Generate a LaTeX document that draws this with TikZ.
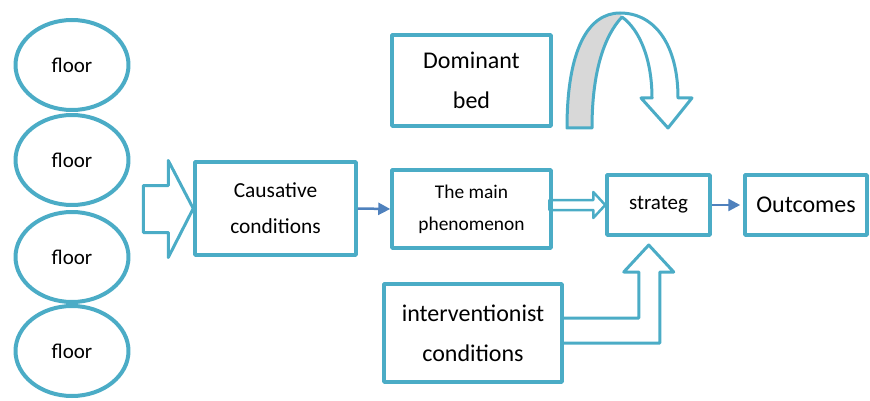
\documentclass[tikz,border=0pt]{standalone}
\usepackage{fontspec}
\setmainfont{Carlito}
\usetikzlibrary{shapes.geometric,arrows.meta}
\definecolor{boxblue}{RGB}{75,172,198}
\definecolor{arrowblue}{RGB}{79,129,189}
\definecolor{bandgray}{RGB}{216,216,216}
\begin{document}
\begin{tikzpicture}[x=1pt, y=-1pt, line join=round, >={Triangle[length=12pt,width=12pt]},
	box/.style={draw=boxblue, line width=3.5pt, rectangle, inner sep=0pt, align=center},
	floorell/.style={draw=boxblue, line width=4pt, ellipse, minimum width=113pt, minimum height=90pt, inner sep=0pt, font=\fontsize{21}{25}\selectfont},
	hollow/.style={draw=boxblue, line width=3pt},
	thinarrow/.style={->, draw=arrowblue, line width=2.5pt}]
			\useasboundingbox (0,0) rectangle (870,401);
			\foreach \y [count=\i] in {65,160,257,351}
				\node[floorell] (fl\i) at (72,\y) {floor};
			\node[box, minimum width=161pt, minimum height=93pt, font=\fontsize{21.4}{36}\selectfont] (cause) at (275.5,208.5) {Causative\\conditions};
			\node[box, minimum width=159pt, minimum height=78pt, font=\fontsize{19.4}{32}\selectfont] (main) at (471.5,209) {The main\\phenomenon};
			\node[box, minimum width=159pt, minimum height=91pt, font=\fontsize{24}{40}\selectfont] (dom) at (471.5,80.5) {Dominant\\bed};
			\node[box, minimum width=103pt, minimum height=60pt, font=\fontsize{21}{25}\selectfont] (strat) at (658.5,205) {strateg};
			\node[box, minimum width=122pt, minimum height=60pt, font=\fontsize{24}{28}\selectfont] (outc) at (806,205) {Outcomes};
			\node[box, minimum width=178pt, minimum height=98pt, font=\fontsize{24}{40}\selectfont] (interv) at (473,333) {interventionist\\conditions};
			% block arrows
			\draw[hollow] (cause.west) -- ++(-25,-48) -- ++(0,25) -- ++(-25,0) -- ++(0,47) -- ++(25,0) -- ++(0,25) -- cycle;
			\draw[hollow, line width=2.5pt] (strat.west) -- ++(-12,-13) -- ++(0,8) -- ++(-44,0) -- ++(0,10) -- ++(44,0) -- ++(0,8) -- cycle;
			\draw[hollow] ([yshift=15pt]interv.east) -- ++(75,0) -- ++(0,-46) -- ++(-15,0) -- ++(25,-27) -- ++(25,27) -- ++(-14,0) -- ++(0,71) -- ++(-96,0);
			\draw[thinarrow] (cause.east) -- (main.west);
			\draw[thinarrow] (strat.east) -- ([xshift=-3pt]outc.west);
			% curved arrow
			\path (567,128)coordinate(A) (592,128)coordinate(B)
			(620,13)coordinate(T) (622,17)coordinate(I)
			(678,98)coordinate(R) (652,98)coordinate(Q)
			(692,98)coordinate(H1) (641,98)coordinate(H2) (668,128)coordinate(H);
			\fill[white] (A) .. controls (567,50) and (588,13) .. (T) .. controls (655,13) and (678,45) .. (R) -- (H1) -- (H) -- (H2) -- (Q) .. controls (652,60) and (640,30) .. (I) .. controls (605,35) and (592,70) .. (B) -- cycle;
			\fill[bandgray] (A) .. controls (567,50) and (588,13) .. (T) -- (I) .. controls (605,35) and (592,70) .. (B) -- cycle;
			\draw[hollow] (A) .. controls (567,50) and (588,13) .. (T) .. controls (655,13) and (678,45) .. (R) -- (H1) -- (H) -- (H2) -- (Q) .. controls (652,60) and (640,30) .. (I) .. controls (605,35) and (592,70) .. (B) -- cycle;
\end{tikzpicture}
\end{document}
